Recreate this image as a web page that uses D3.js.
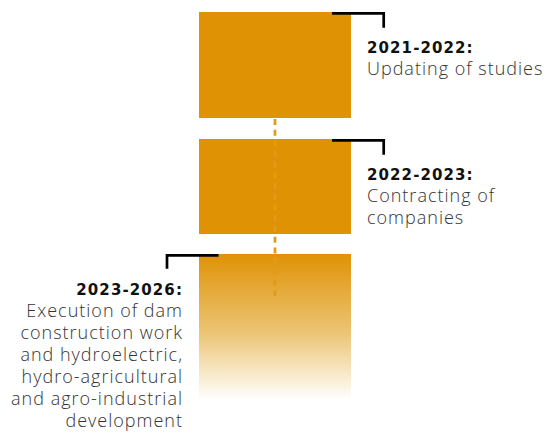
<!DOCTYPE html>
<html>
<head>
<meta charset="utf-8">
<script src="https://cdn.jsdelivr.net/npm/d3@7"></script>
<style>
  html, body { margin: 0; padding: 0; background: #fff; }
  svg { display: block; }
  .year { font-family: "DejaVu Sans", sans-serif; font-weight: bold; font-size: 15px; letter-spacing: 1.1px; fill: #111; }
  .desc { font-family: "Open Sans", sans-serif; font-weight: 300; font-size: 18px; letter-spacing: 1px; fill: #333; }
</style>
</head>
<body>
<div class="timeline"></div>
<script>
'use strict';
(function() {
  // Stages of the project (top to bottom)
  var periods = ['2021-2022:', '2022-2023:', '2023-2026:'];
  var descriptions = [
    ['Updating of studies'],
    ['Contracting of', 'companies'],
    ['Execution of dam', 'construction work', 'and hydroelectric,', 'hydro-agricultural', 'and agro-industrial', 'development']
  ];
  // Where each stage block starts / ends on the timeline (arbitrary units)
  var stageStart = [0, 127, 242];
  var stageEnd = [106, 222, 388];
  // Which side the label sits on
  var labelSide = ['right', 'right', 'left'];
  // dotted connector runs from the end of stage 1 into stage 3
  var connector = [107, 284];

  var ORANGE = '#df9204';

  var w = 549;
  var h = 438;

  var yScale = d3.scaleLinear()
    .domain([0, 388])
    .range([12, 400]);

  var xScale = d3.scaleLinear()
    .domain([0, 1])
    .range([199, 351]);

  var svg = d3.select('.timeline')
    .append('svg')
    .attr('width', w)
    .attr('height', h);

  // fade-out for the last (ongoing) stage
  var grad = svg.append('defs')
    .append('linearGradient')
    .attr('id', 'fade')
    .attr('x1', 0).attr('y1', 0)
    .attr('x2', 0).attr('y2', 1);
  grad.append('stop').attr('offset', '0%').attr('stop-color', ORANGE);
  grad.append('stop').attr('offset', '55%').attr('stop-color', '#ecc678');
  grad.append('stop').attr('offset', '100%').attr('stop-color', '#ffffff');

  var stages = periods.map(function(p, i) {
    return { period: p, lines: descriptions[i], start: stageStart[i], end: stageEnd[i], side: labelSide[i], last: i === periods.length - 1 };
  });

  // blocks
  svg.append('g')
    .selectAll('rect')
    .data(stages)
    .enter()
    .append('rect')
    .attr('x', xScale(0))
    .attr('y', function(d) { return yScale(d.start); })
    .attr('width', xScale(1) - xScale(0))
    .attr('height', function(d) { return yScale(d.end) - yScale(d.start); })
    .attr('fill', function(d) { return d.last ? 'url(#fade)' : ORANGE; });

  // dashed connector
  svg.append('line')
    .attr('x1', xScale(0.5)).attr('x2', xScale(0.5))
    .attr('y1', yScale(connector[0])).attr('y2', yScale(connector[1]))
    .attr('stroke', '#e39a14')
    .attr('stroke-width', 2.7)
    .attr('stroke-dasharray', '6 4.7');

  // brackets
  svg.append('g')
    .selectAll('path')
    .data(stages)
    .enter()
    .append('path')
    .attr('fill', 'none')
    .attr('stroke', '#000')
    .attr('stroke-width', 2.7)
    .attr('d', function(d) {
      var y0 = yScale(d.start) + 1.3;
      if (d.side === 'right') {
        var xr = xScale(1) + 32.7;
        return 'M' + (xScale(1) - 19) + ',' + y0 + 'H' + xr + 'V' + (y0 + 14.5);
      }
      var xl = xScale(0) - 32;
      return 'M' + (xScale(0) + 19.5) + ',' + y0 + 'H' + xl + 'V' + (y0 + 13.5);
    });

  // labels
  var labels = svg.append('g')
    .selectAll('text')
    .data(stages)
    .enter()
    .append('text')
    .attr('text-anchor', function(d) { return d.side === 'right' ? 'start' : 'end'; })
    .attr('transform', function(d) {
      var x = d.side === 'right' ? xScale(1) + 16 : xScale(0) - 16;
      return 'translate(' + x + ',' + (yScale(d.start) + 41) + ')';
    });

  labels.append('tspan')
    .attr('class', 'year')
    .attr('x', 0)
    .attr('y', 0)
    .text(function(d) { return d.period; });

  labels.each(function(d) {
    var t = d3.select(this);
    d.lines.forEach(function(line, j) {
      t.append('tspan')
        .attr('class', 'desc')
        .attr('x', 0)
        .attr('y', 22 * (j + 1))
        .text(line);
    });
  });
})();
</script>
</body>
</html>
